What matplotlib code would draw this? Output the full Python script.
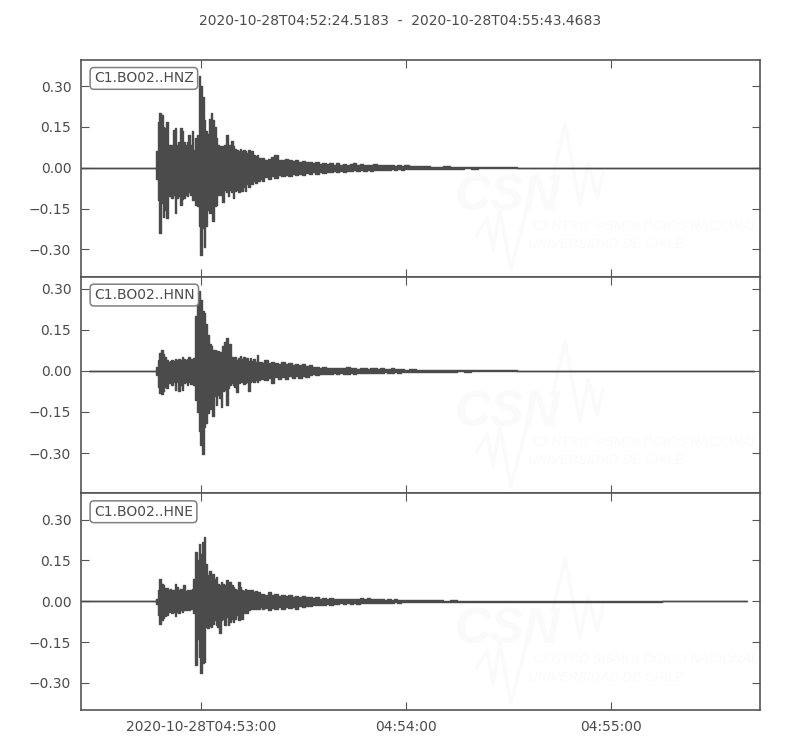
import matplotlib
matplotlib.use("Agg")
import matplotlib.pyplot as plt

#==================================================================================
#     Three component record, min/max envelope of each channel
#     (time in seconds after 04:53:00, amplitude)
#==================================================================================

title = "2020-10-28T04:52:24.5183  -  2020-10-28T04:55:43.4683"
channels = ["C1.BO02..HNZ", "C1.BO02..HNN", "C1.BO02..HNE"]

t_start = -35.2
t_stop = 163.77

# half second steps through the strong shaking, coarser in the coda
t_near = [-13.2, -13.0, -12.5, -12.0, -11.5, -11.0, -10.5, -10.0, -9.5, -9.0, -8.5, -8.0, -7.5, -7.0, -6.5, -6.0, -5.5,
          -5.0, -4.5, -4.0, -3.5, -3.0, -2.5, -2.0, -1.5, -1.0, -0.5, 0.0, 0.5, 1.0, 1.5, 2.0, 2.5,
          3.0, 3.5, 4.0, 4.5, 5.0, 5.5, 6.0, 6.5, 7.0, 7.5, 8.0, 8.5, 9.0, 9.5, 10.0, 10.5,
          11.0, 11.5, 12.0, 12.5, 13.0, 13.5, 14.0, 14.5, 15.0, 15.5, 16.0, 16.5, 17.0, 17.5]
t_far = [18, 19, 20, 21, 22, 23, 24, 25, 26, 27, 28, 29, 30, 31, 32, 33, 34, 35, 36, 37, 38,
         39, 40, 41, 42, 43, 44, 45, 46, 47, 48, 49, 50, 51, 52, 53, 54, 55, 56, 57, 58, 59, 60,
         62, 64, 66, 68, 70, 72, 74, 76, 78, 80, 82, 84, 86, 88, 90, 95, 100, 110]

hnz_up = [0, .06, .17, .20, .195, .15, .145, .17, .085, .085, .085, .14, .145, .085, .095, .145, .135,
          .095, .085, .095, .12, .085, .135, .065, .11, .12, .338, .30, .26, .175, .135, .125, .18,
          .20, .175, .15, .11, .085, .08, .07, .08, .085, .12, .07, .085, .10, .08, .07, .065,
          .06, .07, .06, .065, .06, .055, .065, .055, .06, .048, .042, .048, .035, .035]
hnz_lo = [0, -.04, -.12, -.24, -.13, -.18, -.155, -.185, -.105, -.09, -.11, -.10, -.165, -.11, -.105, -.135, -.115,
          -.11, -.10, -.105, -.09, -.10, -.12, -.12, -.135, -.14, -.215, -.32, -.22, -.29, -.215, -.155, -.165,
          -.155, -.195, -.14, -.135, -.10, -.10, -.09, -.125, -.08, -.09, -.105, -.08, -.09, -.11, -.085, -.08,
          -.09, -.075, -.085, -.07, -.085, -.06, -.07, -.055, -.06, -.05, -.055, -.045, -.05, -.04]
hnz_far_up = [.036, .03, .033, .038, .048, .03, .027, .034, .028, .025, .03, .022, .026, .02, .022, .016, .021, .015, .018, .014, .016,
              .012, .017, .012, .014, .011, .013, .016, .011, .013, .01, .012, .009, .013, .01, .011, .009, .01, .012, .008, .01, .007, .009,
              .007, .008, .005, .004, .004, .005, .003, .004, .003, .003, .002, .003, .002, .002, .002, .001, .001, .001]
hnz_far_lo = [-.05, -.034, -.04, -.03, -.036, -.028, -.032, -.026, -.03, -.024, -.028, -.021, -.026, -.019, -.023, -.017, -.022, -.015, -.018, -.014, -.016,
              -.013, -.015, -.011, -.014, -.01, -.012, -.009, -.011, -.008, -.01, -.009, -.011, -.008, -.009, -.007, -.009, -.008, -.006, -.008, -.006, -.007, -.005,
              -.006, -.004, -.005, -.004, -.003, -.004, -.003, -.003, -.002, -.003, -.002, -.002, -.002, -.002, -.001, -.001, -.001, -.001]

hnn_up = [0, .016, .04, .065, .077, .06, .05, .04, .032, .037, .04, .037, .044, .04, .044, .04, .052,
          .044, .04, .044, .05, .044, .04, .046, .20, .25, .29, .26, .22, .21, .17, .13, .098,
          .09, .077, .077, .07, .073, .07, .058, .09, .107, .12, .098, .10, .052, .044, .052, .04,
          .046, .056, .044, .052, .04, .048, .037, .048, .037, .044, .034, .058, .034, .032]
hnn_lo = [0, -.016, -.06, -.08, -.085, -.075, -.057, -.063, -.045, -.04, -.05, -.04, -.07, -.04, -.073, -.05, -.07,
          -.045, -.04, -.05, -.042, -.048, -.04, -.05, -.105, -.15, -.22, -.27, -.305, -.205, -.19, -.155, -.14,
          -.08, -.165, -.09, -.125, -.088, -.10, -.13, -.075, -.07, -.125, -.063, -.05, -.045, -.05, -.057, -.078,
          -.045, -.042, -.042, -.048, -.045, -.04, -.073, -.04, -.037, -.042, -.033, -.04, -.033, -.03]
hnn_far_up = [.03, .038, .028, .034, .03, .026, .032, .024, .028, .022, .026, .02, .024, .018, .022, .016, .013, .012, .014, .01, .012,
              .011, .012, .009, .011, .013, .009, .012, .008, .01, .012, .007, .009, .011, .007, .009, .008, .006, .009, .007, .006, .008, .005,
              .006, .004, .005, .004, .003, .004, .003, .003, .003, .002, .003, .002, .002, .002, .002, .001, .001, .001]
hnn_far_lo = [-.03, -.034, -.026, -.045, -.024, -.03, -.022, -.028, -.02, -.026, -.018, -.025, -.017, -.023, -.015, -.012, -.016, -.011, -.013, -.01, -.012,
              -.009, -.011, -.008, -.01, -.012, -.008, -.01, -.007, -.009, -.008, -.006, -.009, -.007, -.006, -.008, -.005, -.007, -.006, -.005, -.006, -.004, -.005,
              -.004, -.005, -.003, -.004, -.003, -.003, -.003, -.002, -.003, -.002, -.002, -.002, -.002, -.002, -.001, -.001, -.001, -.001]

hne_up = [0, .01, .04, .083, .065, .06, .05, .05, .043, .046, .043, .04, .065, .052, .04, .046, .04,
          .059, .038, .04, .043, .04, .046, .083, .18, .15, .21, .175, .217, .238, .138, .095, .113,
          .095, .10, .083, .09, .065, .059, .07, .065, .059, .077, .07, .07, .059, .052, .046, .04,
          .07, .052, .04, .038, .046, .04, .043, .034, .04, .034, .038, .028, .034, .028]
hne_lo = [0, -.01, -.05, -.082, -.07, -.06, -.055, -.05, -.04, -.033, -.045, -.04, -.055, -.04, -.045, -.033, -.04,
          -.033, -.033, -.03, -.033, -.03, -.03, -.045, -.235, -.14, -.205, -.265, -.228, -.222, -.095, -.10, -.09,
          -.094, -.082, -.07, -.088, -.094, -.118, -.07, -.064, -.088, -.058, -.088, -.076, -.064, -.075, -.064, -.05,
          -.07, -.05, -.064, -.045, -.04, -.045, -.033, -.03, -.027, -.03, -.027, -.024, -.027, -.021]
hne_far_up = [.027, .022, .034, .024, .028, .02, .024, .018, .022, .017, .02, .015, .018, .014, .016, .012, .014, .01, .012, .009, .011,
              .008, .01, .007, .009, .008, .01, .007, .009, .012, .008, .013, .007, .009, .007, .008, .006, .008, .005, .007, .005, .006, .004,
              .005, .003, .004, .003, .003, .002, .003, .002, .002, .002, .002, .002, .001, .002, .001, .001, .001, .001]
hne_far_lo = [-.03, -.026, -.033, -.024, -.03, -.022, -.027, -.021, -.025, -.02, -.03, -.019, -.022, -.016, -.018, -.014, -.015, -.012, -.013, -.011, -.012,
              -.009, -.011, -.008, -.01, -.008, -.009, -.007, -.009, -.007, -.008, -.006, -.008, -.006, -.007, -.005, -.006, -.005, -.005, -.004, -.005, -.004, -.004,
              -.004, -.003, -.003, -.003, -.002, -.003, -.002, -.002, -.002, -.002, -.002, -.001, -.001, -.001, -.001, -.001, -.001, -.001]

uppers = [hnz_up + hnz_far_up, hnn_up + hnn_far_up, hne_up + hne_far_up]
lowers = [hnz_lo + hnz_far_lo, hnn_lo + hnn_far_lo, hne_lo + hne_far_lo]

# where each trace starts and stops (seconds), they are not quite the same length
trace_start = [t_start, -32.8, t_start]
trace_stop = [t_stop, 162.0, 160.0]

y_limits = [(-0.400, 0.396), (-0.447, 0.344), (-0.400, 0.397)]
y_ticks = [-0.30, -0.15, 0.00, 0.15, 0.30]
x_ticks = [0, 60, 120]
x_labels = ["2020-10-28T04:53:00", "04:54:00", "04:55:00"]

INK = "#4b4b4b"
EDGE = "#555555"
FAINT = "#fafafa"

plt.rcParams["font.family"] = "DejaVu Sans"
plt.rcParams["font.size"] = 10


def draw_watermark(ax):
    # logo sits at the same spot of every panel, axes coordinates
    kw = dict(transform=ax.transAxes, color=FAINT, zorder=0, style="italic",
              family="Liberation Sans", ha="left", va="baseline")
    ax.text(0.550, 0.309, "CSN", fontsize=36, weight="bold", **kw)
    ax.text(0.665, 0.217, "CENTRO SISMOLÓGICO NACIONAL", fontsize=9.5, **kw)
    ax.text(0.659, 0.134, "UNIVERSIDAD DE CHILE", fontsize=9.5, **kw)
    big_x = [0.583, 0.598, 0.607, 0.617, 0.633, 0.657]
    big_y = [0.194, 0.272, 0.124, 0.309, 0.032, 0.318]
    top_x = [0.695, 0.713, 0.735, 0.747, 0.760, 0.769]
    top_y = [0.461, 0.700, 0.332, 0.525, 0.364, 0.479]
    ax.plot(big_x, big_y, color=FAINT, lw=2.5, transform=ax.transAxes, zorder=0)
    ax.plot(top_x, top_y, color=FAINT, lw=2.5, transform=ax.transAxes, zorder=0)


fig, axes = plt.subplots(3, 1, figsize=(8, 7.5), dpi=100, sharex=True)
fig.subplots_adjust(left=81 / 800, right=760 / 800, top=1 - 60 / 750, bottom=1 - 710 / 750, hspace=0)

times = t_near + t_far
for i, ax in enumerate(axes):
    draw_watermark(ax)

    x = [trace_start[i]] + times + [trace_stop[i]]
    up = [0.0] + uppers[i] + [0.0]
    lo = [0.0] + lowers[i] + [0.0]
    ax.fill_between(x, lo, up, step="mid", color=INK, lw=1.0, zorder=2)

    ax.set_xlim(t_start, t_stop)
    ax.set_ylim(*y_limits[i])
    ax.set_yticks(y_ticks)
    ax.set_yticklabels(["%.2f" % v if v >= 0 else "\u2212%.2f" % -v for v in y_ticks])
    ax.set_xticks(x_ticks)
    ax.set_xticklabels(x_labels)
    ax.tick_params(direction="in", length=6, width=0.8, color=EDGE, labelcolor=INK,
                   top=True, right=True, pad=7)
    for side in ax.spines.values():
        side.set_color(EDGE)
        side.set_linewidth(1.2)

    ax.text(13 / 679, 0.915, channels[i], transform=ax.transAxes, color=INK, fontsize=10, va="center", ha="left", zorder=5,
            bbox=dict(boxstyle="round,pad=0.28", fc="white", ec="#808080", lw=1.1))

fig.text(0.5, 1 - 21 / 750, title, ha="center", va="center", color=INK, fontsize=10)
fig.savefig("out.png", dpi=100)
